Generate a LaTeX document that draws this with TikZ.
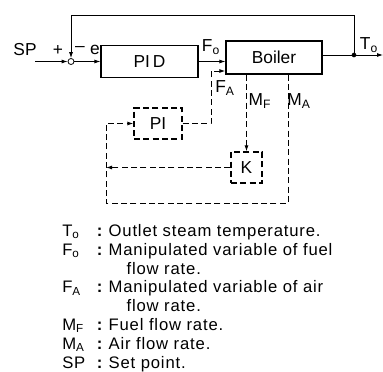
\documentclass[tikz,border=0pt]{standalone}
\usepackage{fontspec}
\setmainfont{Liberation Sans}
\newfontfamily\legendfont{Liberation Sans}[LetterSpace=5]
\usetikzlibrary{arrows.meta}
\tikzset{
	blk/.style={draw, line width=0.9pt, inner sep=0pt},
	dblk/.style={blk, dash pattern=on 4.5pt off 2.5pt},
	sig/.style={line width=0.6pt, ->},
	dsig/.style={sig, line width=0.75pt, dash pattern=on 4.5pt off 2.5pt},
	lbl/.style={inner sep=0pt}
}
\begin{document}
\begin{tikzpicture}[x=0.75pt, y=-0.75pt, >={Latex[length=4.5pt,width=3pt]}, font=\fontsize{13}{15}\selectfont]
	\useasboundingbox (0,0) rectangle (383,372);
	% blocks
	\node[blk, minimum width=72.75pt, minimum height=24pt] (pid) at (149.5,61.5) {PI\,D};
	\node[blk, minimum width=72pt, minimum height=24.75pt] (boiler) at (274,57.5) {Boiler};
	\node[dblk, minimum width=36pt, minimum height=23.25pt] (pi) at (158,123.5) {PI};
	\node[dblk, minimum size=23.25pt] (k) at (246.5,167.5) {K};
	\node[draw, circle, line width=0.6pt, minimum size=4.5pt, inner sep=0pt] (sum) at (71,61.5) {};
	\node[circle, fill, minimum size=3.5pt, inner sep=0pt] (tap) at (354,55) {};
	% free ends and corners
	\coordinate (spin) at (35,61.5);
	\coordinate (out) at (383,55);
	\coordinate (fbtop) at (354,15);
	\coordinate (fa) at (211,71);
	\coordinate (ma) at (288,203);
	\coordinate (lc) at (106,203);
	% solid loop
	\draw[sig] (spin) -- (sum.west);
	\draw[sig] (sum.east) -- (pid.west);
	\draw[sig] (pid.east) -- (pid.east -| boiler.west);
	\draw[line width=0.6pt] (tap -| boiler.east) -- (tap.center);
	\draw[sig] (tap.center) -- (out);
	\draw[sig] (tap.center) -- (fbtop) -| (sum.north);
	% dashed air loop
	\draw[dsig] (pi.east) -| (fa) -- (fa -| boiler.west);
	\draw[dsig] (k.north |- boiler.south) -- (k.north);
	\draw[dsig] (boiler.south -| ma) -- (ma) -- (lc) |- (pi.west);
	\draw[dsig] (k.west) -- (k.west -| lc);
	% labels
	\node[lbl] (lsp) at (25,50) {SP};
	\node[lbl] (lplus) at (58,50) {+};
	\node[lbl] (lminus) at (80,49) {–};
	\node[lbl] (le) at (95,50) {e};
	\node[lbl] (lfo) at (211,47) {F\textsubscript{o}};
	\node[lbl] (lto) at (369,45) {T\textsubscript{o}};
	\node[lbl] (lfa) at (225,88) {F\textsubscript{A}};
	\node[lbl] (lmf) at (260,101) {M\textsubscript{F}};
	\node[lbl] (lma) at (299,101) {M\textsubscript{A}};
	% legend
	\node[lbl, anchor=north west, font=\legendfont\fontsize{12.5}{14.1}\selectfont] (legend) at (62,223) {%
		\begin{tabular}{@{}p{26pt}@{}l@{\hspace{4pt}}l@{}}
			T\textsubscript{o} & \textbf{:} & Outlet steam temperature.\\
			F\textsubscript{o} & \textbf{:} & Manipulated variable of fuel\\
			 & & \hspace{13.5pt}flow rate.\\
			F\textsubscript{A} & \textbf{:} & Manipulated variable of air\\
			 & & \hspace{13.5pt}flow rate.\\
			M\textsubscript{F} & \textbf{:} & Fuel flow rate.\\
			M\textsubscript{A} & \textbf{:} & Air flow rate.\\
			SP & \textbf{:} & Set point.
		\end{tabular}};
\end{tikzpicture}
\end{document}
